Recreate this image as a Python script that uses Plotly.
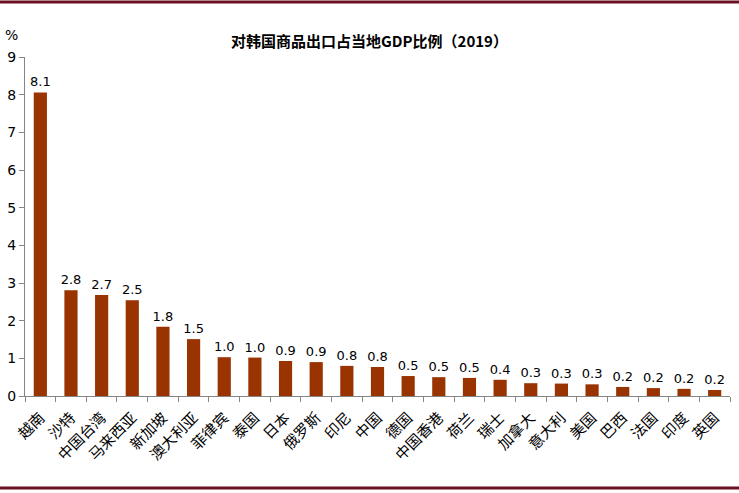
import plotly.graph_objects as go

# 对韩国商品出口占当地GDP比例(2019),单位 %
paises = ["越南", "沙特", "中国台湾", "马来西亚", "新加坡", "澳大利亚", "菲律宾", "泰国",
          "日本", "俄罗斯", "印尼", "中国", "德国", "中国香港", "荷兰", "瑞士", "加拿大",
          "意大利", "美国", "巴西", "法国", "印度", "英国"]
valores = [8.06, 2.81, 2.68, 2.54, 1.84, 1.51, 1.03, 1.02, 0.93, 0.9, 0.8, 0.77, 0.53,
           0.5, 0.48, 0.43, 0.34, 0.33, 0.31, 0.24, 0.21, 0.19, 0.16]
ticks_y = [0, 1, 2, 3, 4, 5, 6, 7, 8, 9]

fuente_num = "DejaVu Sans"
fuente_cjk = "Noto Sans CJK SC"

fig = go.Figure()
fig.add_trace(go.Bar(
    x=paises, y=valores,
    marker=dict(color="#993300", line=dict(width=0)),
    texttemplate="%{y:.1f}", textposition="outside", cliponaxis=False,
    constraintext="none",
    textfont=dict(family=fuente_num, size=13, color="#000000"),
))

fig.update_layout(
    width=739, height=493,
    margin=dict(l=25, r=9, t=57, b=97),
    paper_bgcolor="white", plot_bgcolor="white",
    bargap=0.57, showlegend=False,
    title=dict(text="<b>对韩国商品出口占当地GDP比例（2019）</b>", x=0.5, xanchor="center",
               y=1 - 42 / 493, yanchor="middle",
               font=dict(family=fuente_cjk, size=15, color="#000000")),
    xaxis=dict(showline=True, linecolor="#868686", linewidth=1, ticks="outside",
               tickson="boundaries", ticklen=5, tickcolor="#868686", tickangle=-45,
               automargin=False, ticklabelstandoff=6,
               tickfont=dict(family=fuente_cjk, size=15, color="#000000")),
    yaxis=dict(range=[0, 9], tickvals=ticks_y, showline=True, linecolor="#868686",
               linewidth=1, ticks="outside", ticklen=5, tickcolor="#868686",
               showgrid=False, zeroline=False, automargin=False,
               tickfont=dict(family=fuente_num, size=14, color="#000000")),
)

# % de la escala
fig.add_annotation(text="%", xref="paper", yref="paper", x=-22 / 705, y=1 + 22 / 339,
                   xanchor="left", yanchor="middle", showarrow=False,
                   font=dict(family=fuente_num, size=14, color="#000000"))

# lineas marron arriba y abajo
for yp in [491, 5]:
    fig.add_shape(type="line", xref="paper", yref="paper",
                  x0=-25 / 705, x1=1 + 9 / 705, y0=(yp - 97) / 339, y1=(yp - 97) / 339,
                  line=dict(color="#6b1020", width=3))

# sin el margen del body para que la figura ocupe toda la ventana
fig.write_html("out.html", config={"displayModeBar": False},
               post_script="document.body.style.margin='0px';")
